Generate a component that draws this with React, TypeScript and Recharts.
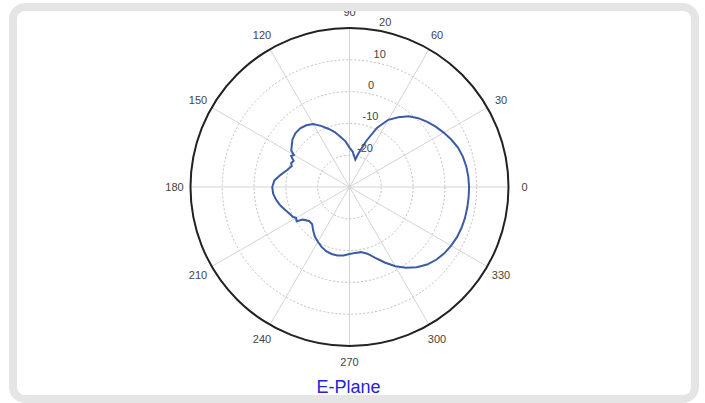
import { RadarChart, Radar, PolarGrid, PolarAngleAxis, PolarRadiusAxis } from 'recharts';

// measured E-plane pattern, angle in degrees (counter-clockwise from 0), gain in dB
const angles = [
  0, 5, 10, 15, 20, 25, 30, 35, 40, 45, 50, 55, 60, 65, 70, 75, 78, 80, 85, 90,
  95, 100, 105, 110, 115, 120, 125, 130, 135, 140, 145, 148, 150, 152, 155, 158, 160, 165, 170, 175,
  180, 185, 190, 195, 200, 205, 208, 210, 213, 215, 220, 225, 230, 235, 240, 245, 250, 255, 260,
  265, 270, 275, 280, 285, 290, 295, 300, 305, 310, 315, 320, 325, 330, 335, 340, 345,
  350, 355,
];
const gainDb = [
  7.6, 7.5, 7.3, 6.9, 6.3, 5.3, 4.2, 3.1, 1.9, 0.6, -1.0, -3.2, -5.6, -9.4, -14.6, -19.0, -21.2, -20.6, -18.8, -17.6,
  -15.6, -14.0, -12.1, -10.5, -8.8, -7.1, -6.3, -5.9, -6.0, -6.6, -7.8, -8.4, -9.8, -9.2, -10.6, -10.2, -10.7, -9.6, -8.0, -6.3,
  -5.7, -5.9, -6.6, -7.5, -8.6, -9.5, -9.9, -10.6, -10.2, -12.1, -13.4, -13.4, -12.2, -11.0, -10.1, -9.2, -8.5, -8.2, -8.1,
  -8.4, -8.9, -9.2, -9.2, -8.3, -6.3, -3.8, -1.2, 1.0, 2.9, 4.5, 5.6, 6.4, 6.9, 7.3, 7.5, 7.6,
  7.6, 7.6,
];
const angleTicks = [0, 30, 60, 90, 120, 150, 180, 210, 240, 270, 300, 330];
const radiusTicks = [-30, -20, -10, 0, 10, 20];

const data = angles.map((a, i) => ({ angle: a, gain: gainDb[i] }));

const AngleTick = (props: any) => {
  const { x, y, payload } = props;
  return (
    <text x={x} y={y} textAnchor="middle" dominantBaseline="central" fontSize={11} fill="#444"
      fontFamily="'Liberation Sans', Arial, sans-serif">
      {payload.value}
    </text>
  );
};

const RadiusTick = (props: any) => {
  const { x, y, payload } = props;
  if (payload.value === -30) return <g />;
  return (
    <text x={x + 2} y={y - 8} textAnchor="start" dominantBaseline="central" fontSize={11} fill="#444"
      fontFamily="'Liberation Sans', Arial, sans-serif">
      {payload.value}
    </text>
  );
};

export default function App() {
  return (
    <div
      style={{
        position: 'fixed',
        left: 9,
        top: 3,
        width: 690,
        height: 400,
        boxSizing: 'border-box',
        border: '8px solid #e5e5e5',
        borderRadius: 16,
        overflow: 'hidden',
        background: '#fff',
      }}
    >
      <div style={{ position: 'absolute', left: -17, top: -11, width: 705, height: 403 }}>
        <RadarChart
          width={705}
          height={403}
          data={data}
          cx={349.5}
          cy={187}
          outerRadius={159}
          startAngle={0}
          endAngle={360}
          margin={{ top: 0, right: 0, bottom: 0, left: 0 }}
        >
          <PolarGrid gridType="circle" radialLines={false} stroke="#bdbdbd" strokeDasharray="2 2" />
          <PolarGrid gridType="circle" polarAngles={angleTicks} polarRadius={[]} stroke="#d4d4d4" />
          <PolarAngleAxis
            dataKey="angle"
            type="number"
            domain={[0, 360]}
            ticks={angleTicks}
            tick={<AngleTick />}
            tickLine={false}
            tickSize={16}
            axisLineType="circle"
            axisLine={{ stroke: '#222', strokeWidth: 2 }}
          />
          <PolarRadiusAxis
            angle={80}
            type="number"
            domain={[-30, 20]}
            ticks={radiusTicks}
            tickCount={6}
            axisLine={false}
            tickLine={false}
            tick={<RadiusTick />}
          />
          <Radar
            dataKey="gain"
            stroke="#3b5ba5"
            strokeWidth={2}
            fill="none"
            fillOpacity={0}
            dot={false}
            isAnimationActive={false}
          />
        </RadarChart>
        <div
          style={{
            position: 'absolute',
            left: 0,
            top: 377,
            width: 697,
            textAlign: 'center',
            fontFamily: "'Liberation Sans', Arial, sans-serif",
            fontSize: 18,
            lineHeight: '20px',
            color: '#2323e0',
          }}
        >
          E-Plane
        </div>
      </div>
    </div>
  );
}
